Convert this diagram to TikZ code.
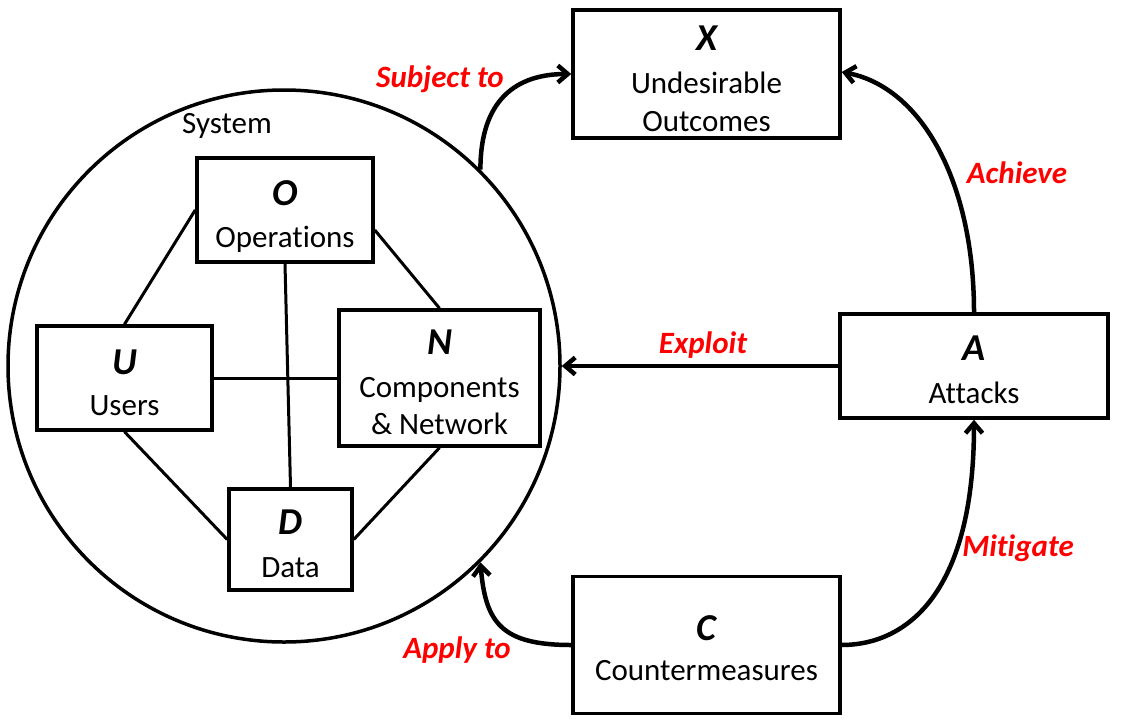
\documentclass[tikz,border=0pt]{standalone}
\usepackage{fontspec}
\setmainfont{Carlito}[Ligatures=NoCommon]
\usetikzlibrary{arrows.meta,calc}
\begin{document}
\begin{tikzpicture}[x=1pt,y=-1pt,
  box/.style={draw,line width=3.5pt,rectangle,inner sep=0pt},
  conn/.style={line width=3pt},
  arr/.style={line width=4.5pt,-{Straight Barb[length=10pt,width=17pt]}},
  txt/.style={anchor=base,inner sep=0pt,font=\fontsize{31}{38}\selectfont},
  letter/.style={anchor=base,inner sep=0pt,font=\fontsize{38}{44}\selectfont\bfseries\itshape},
  lbl/.style={anchor=base,inner sep=0pt,text=red,font=\fontsize{31}{38}\selectfont\bfseries\itshape}]
\useasboundingbox (0,0) rectangle (1121,723);
% system circle
\node[draw,circle,line width=3.5pt,minimum size=552pt,inner sep=0pt] (sys) at (284,366) {};
\node[txt] (systxt) at (227,133) {System};
% boxes
\node[box,minimum width=267pt,minimum height=128pt] (X) at (706.5,74) {};
\node[box,minimum width=176pt,minimum height=104pt] (O) at (285,210) {};
\node[box,minimum width=175pt,minimum height=104pt] (U) at (124.5,378) {};
\node[box,minimum width=201pt,minimum height=136pt] (N) at (439.5,378) {};
\node[box,minimum width=123pt,minimum height=101pt] (D) at (290.5,539.5) {};
\node[box,minimum width=268pt,minimum height=104pt] (A) at (974,366) {};
\node[box,minimum width=267pt,minimum height=137pt] (C) at (706.5,645) {};
% box texts
\node[letter] (Xl) at (706.5,50) {X};
\node[txt] (X1) at (706.5,93) {Undesirable};
\node[txt] (X2) at (706.5,131) {Outcomes};
\node[letter] (Ol) at (285,205) {O};
\node[txt] (O1) at (285,247) {Operat\kern0pt ions};
\node[letter] (Ul) at (124.5,374) {U};
\node[txt] (U1) at (124.5,415) {Users};
\node[letter] (Nl) at (439.5,354) {N};
\node[txt] (N1) at (439.5,397) {Components};
\node[txt] (N2) at (439.5,434) {\& Network};
\node[letter] (Dl) at (290.5,534) {D};
\node[txt] (D1) at (290.5,577) {Data};
\node[letter] (Al) at (974,360) {A};
\node[txt] (A1) at (974,403) {Attacks};
\node[letter] (Cl) at (706.5,640) {C};
\node[txt] (C1) at (706.5,680) {Countermeasures};
% inner connectors
\draw[conn] (O.west) -- (U.north);
\draw[conn] ($(O.east)+(0,20)$) -- (N.north);
\draw[conn] (O.south) -- (D.north);
\draw[conn] (U.east) -- (N.west);
\draw[conn] (U.south) -- (D.west);
\draw[conn] (N.south) -- (D.east);
% arrows
\draw[arr] (sys.45) .. controls +(0,-70) and +(-55,0) .. (X.west);
\draw[arr] (A.north) .. controls +(0,-130) and +(80,15) .. ($(X.east)+(0,-2)$);
\draw[arr] (A.west) -- (sys.east);
\draw[arr] (C.east) .. controls +(60,0) and +(0,180) .. (A.south);
\draw[arr] (C.west) .. controls +(-70,0) and +(5,60) .. (sys.-45);
% labels
\node[lbl] (l1) at (440,87) {Subject to};
\node[lbl] (l2) at (1017,183) {Achieve};
\node[lbl] (l3) at (703,353) {Exploit};
\node[lbl] (l4) at (1018,556) {Mitigate};
\node[lbl] (l5) at (457,658) {Apply to};
\end{tikzpicture}
\end{document}
